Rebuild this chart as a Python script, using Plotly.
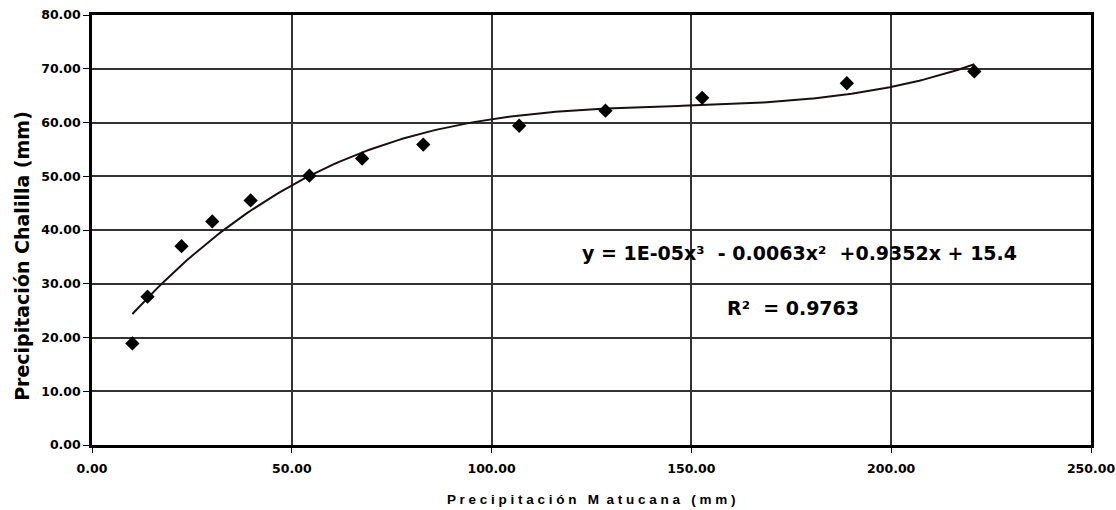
import numpy as np
import plotly.graph_objects as go

# Data
x_matucana = [10.1, 13.9, 22.4, 30.1, 39.7, 54.4, 67.6, 82.9, 106.9, 128.5, 152.7, 188.9, 220.8]
y_chalilla = [18.9, 27.6, 37.0, 41.6, 45.5, 50.1, 53.3, 55.9, 59.4, 62.2, 64.6, 67.3, 69.5]

x_ticks = [0, 50, 100, 150, 200, 250]
y_ticks = [0, 10, 20, 30, 40, 50, 60, 70, 80]

equation_text = "y = 1E-05x³  - 0.0063x²  +0.9352x + 15.4"
r2_text = "R²  = 0.9763"
x_title = "P r e c i p i t a c i ó n   M  a t u c a n a   ( m m )"
y_title = "Precipitación Chalilla (mm)"

# Cubic trend line fitted to the points
coef = np.polyfit(x_matucana, y_chalilla, 3)
xs = np.linspace(min(x_matucana), max(x_matucana), 200)
ys = np.polyval(coef, xs)

fig = go.Figure()
fig.add_trace(go.Scatter(x=xs, y=ys, mode="lines",
                         line=dict(color="#1a1010", width=2), hoverinfo="skip"))
fig.add_trace(go.Scatter(x=x_matucana, y=y_chalilla, mode="markers",
                         marker=dict(symbol="diamond", size=11, color="black")))

ann_font = dict(family="DejaVu Sans", size=19, color="black", weight="bold")
fig.add_annotation(x=122.1, y=35.7, text=equation_text, showarrow=False,
                   xanchor="left", yanchor="middle", font=ann_font)
fig.add_annotation(x=158.4, y=25.5, text=r2_text, showarrow=False,
                   xanchor="left", yanchor="middle", font=ann_font)

# Axis titles as annotations for exact placement
fig.add_annotation(x=-0.07, y=0.44, xref="paper", yref="paper", text=y_title,
                   textangle=-90, showarrow=False, xanchor="center", yanchor="middle",
                   font=dict(family="DejaVu Sans", size=19, color="black", weight="bold"))
fig.add_annotation(x=0.5, y=-0.127, xref="paper", yref="paper", text=x_title,
                   showarrow=False, xanchor="center", yanchor="middle",
                   font=dict(family="Liberation Sans", size=13.5, color="black", weight="bold"))

axis_font = dict(family="DejaVu Sans", size=12.5, color="black", weight="bold")
fig.update_xaxes(range=[0, 250], tickvals=x_ticks, tickformat=".2f",
                 showgrid=True, gridcolor="#333333", gridwidth=1.5,
                 showline=True, linecolor="black", linewidth=2.5, mirror=True,
                 ticks="outside", ticklen=5, tickcolor="black",
                 tickfont=axis_font, zeroline=False, automargin=False,
                 ticklabelstandoff=5)
fig.update_yaxes(range=[0, 80], tickvals=y_ticks, tickformat=".2f",
                 showgrid=True, gridcolor="#333333", gridwidth=1.5,
                 showline=True, linecolor="black", linewidth=2.5, mirror=True,
                 ticks="outside", ticklen=6, tickcolor="black",
                 tickfont=axis_font, zeroline=False, automargin=False)

fig.update_layout(width=1116, height=510, margin=dict(l=92, r=25, t=15, b=65),
                  plot_bgcolor="white", paper_bgcolor="white", showlegend=False)

fig.write_html("out.html")
